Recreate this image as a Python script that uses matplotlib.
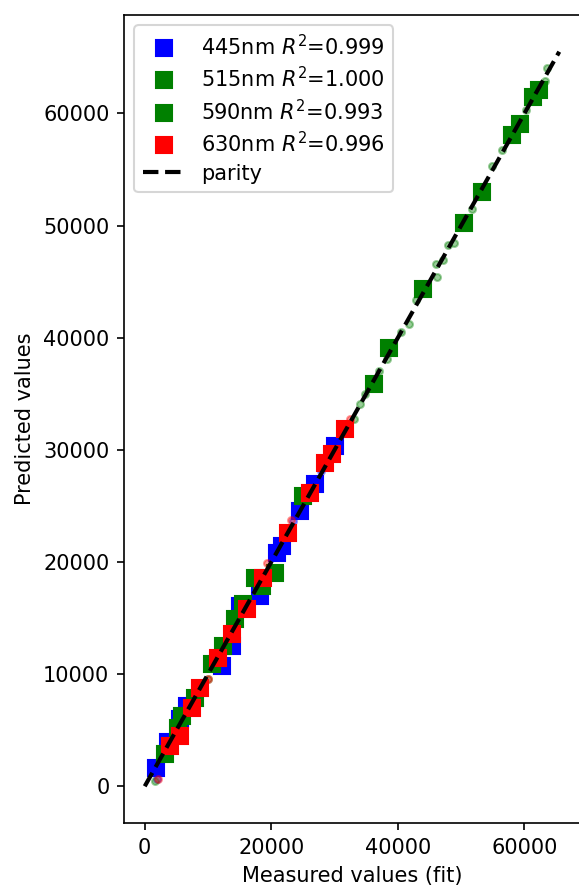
import numpy as np
from matplotlib import pyplot as plt

# fitted points (large squares), measured vs predicted
blue_x = [1740, 3640, 5530, 6640, 12170, 13750, 15020, 18180, 20870, 21660, 24510, 26880, 30040]
blue_y = [1600, 3950, 6000, 7200, 10700, 12480, 16100, 16930, 20770, 21390, 24510, 26920, 30300]

g515_x = [38580, 36210, 43950, 50430, 53280, 58020, 59290, 61340, 62290, 24980, 20550]
g515_y = [39040, 35830, 44330, 50270, 53030, 58110, 59090, 61500, 62120, 25850, 18980]

g590_x = [3160, 5220, 5850, 7910, 10590, 12330, 14230, 15490, 17390, 18500]
g590_y = [2850, 5170, 6240, 7840, 10870, 12480, 14880, 16220, 18540, 17830]

red_x = [3950, 5530, 7430, 8700, 11540, 13750, 16130, 18660, 22610, 26090, 28460, 29560, 31620]
red_y = [3570, 4460, 6950, 8730, 11410, 13550, 15780, 18540, 22550, 26120, 28790, 29590, 31820]

# other points (small transparent circles)
blue_cx = [1900, 23400, 27900]
blue_cy = [620, 23620, 28100]

g515_cx = [63560, 63240, 60240, 56440, 54860, 51700, 47900, 48850, 47110, 46000, 46170,
           42850, 41740, 40470, 38260, 37000, 34780, 34000, 33050]
g515_cy = [64080, 62930, 60340, 56770, 55350, 51520, 48310, 48400, 46970, 46530, 45370,
           43320, 41180, 40550, 38060, 36990, 34940, 34050, 32710]

g590_cx = [1700, 9960]
g590_cy = [500, 9540]

red_cx = [2100, 9960, 19290, 32410, 23100]
red_cy = [620, 9540, 19880, 32710, 23700]

labels = ['445nm $R^2$=0.999', '515nm $R^2$=1.000', '590nm $R^2$=0.993', '630nm $R^2$=0.996']
colors = ['blue', 'green', 'green', 'red']
parity = [0, 65500]

fig = plt.figure(figsize=(579 / 150, 887 / 150), dpi=150)
ax = fig.add_axes([124 / 579, 64 / 887, 456 / 579, 808 / 887])

series = [(blue_x, blue_y, blue_cx, blue_cy),
          (g515_x, g515_y, g515_cx, g515_cy),
          (g590_x, g590_y, g590_cx, g590_cy),
          (red_x, red_y, red_cx, red_cy)]

for (sx, sy, cx, cy), c, lab in zip(series, colors, labels):
    ax.plot(sx, sy, 's', color=c, ms=7.5, label=lab)
    ax.plot(cx, cy, 'o', color=c, ms=3.3, alpha=0.4)

ax.plot(parity, parity, 'k--', lw=2, label='parity')

ax.set_xlabel('Measured values (fit)')
ax.set_ylabel('Predicted values')
ax.legend(loc='upper left', labelspacing=0.35)

fig.savefig('out.png', dpi=150)
